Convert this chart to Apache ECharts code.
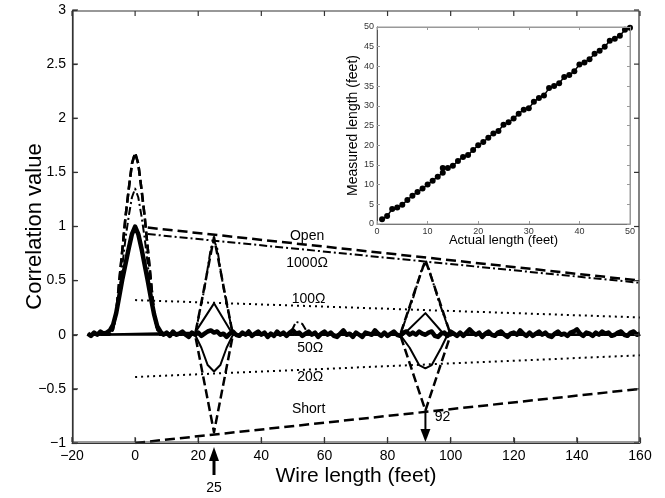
<!DOCTYPE html>
<html><head><meta charset="utf-8">
<script src="https://cdn.jsdelivr.net/npm/echarts@6/dist/echarts.min.js"></script>
<style>html,body{margin:0;padding:0;background:#fff}#c{width:665px;height:498px}</style>
</head><body><div id="c"></div>
<script>
// ---------- main chart data (x = wire length in feet, y = correlation) ----------
var xTicks = [-20, 0, 20, 40, 60, 80, 100, 120, 140, 160];
var yTicks = [-1, -0.5, 0, 0.5, 1, 1.5, 2, 2.5, 3];

// thick noisy baseline (50 ohm trace, incident peak 1.0)
var trace50 = [[-15,0.01],[-14,-0.01],[-13,0.02],[-12,0.0],[-11,0.03],[-10,0.01],[-9,0.02],[-8,0.04],[-7,0.09],[-6,0.2],[-5,0.36],[-4,0.52],[-3,0.66],[-2,0.8],[-1,0.93],[0,1.0],[1,0.93],[2,0.8],[3,0.65],[4,0.5],[5,0.34],[6,0.19],[7,0.08],[8,0.03],[9,0.0],[10,0.02],[11,-0.01],[12,0.03],[13,0.0],[14,0.01],[15,0.03],[16,0.0],[17,-0.02],[18,0.02],[19,0.0],[20,0.02],[21,-0.01],[22,0.01],[23,0.03],[24,0.04],[25,0.02],[26,0.03],[27,0.0],[28,0.01],[29,-0.02],[30,0.01],[31,0.03],[32,0.0],[33,-0.01],[34,0.02],[35,0.0],[36,0.03],[37,-0.01],[38,0.01],[39,0.03],[40,0.0],[41,0.02],[42,-0.02],[43,0.01],[44,-0.01],[45,0.03],[46,0.0],[47,0.02],[48,-0.01],[49,0.02],[50,0.04],[51,0.01],[52,0.02],[53,-0.01],[54,0.01],[55,0.03],[56,0.0],[57,0.02],[58,-0.02],[59,0.01],[60,0.03],[61,0.0],[62,0.02],[63,-0.01],[64,-0.02],[65,0.01],[66,0.04],[67,0.0],[68,0.01],[69,-0.02],[70,0.02],[71,0.0],[72,-0.02],[73,0.02],[74,0.01],[75,0.0],[76,0.04],[77,0.01],[78,-0.01],[79,0.02],[80,-0.01],[81,0.01],[82,0.03],[83,0.0],[84,-0.01],[85,0.02],[86,0.03],[87,0.0],[88,0.02],[89,0.0],[90,0.03],[91,0.01],[92,0.0],[93,0.02],[94,0.03],[95,-0.01],[96,-0.02],[97,0.01],[98,0.02],[99,-0.01],[100,0.03],[101,0.01],[102,-0.01],[103,0.02],[104,-0.01],[105,0.02],[106,0.05],[107,0.02],[108,0.0],[109,0.02],[110,-0.02],[111,0.01],[112,0.03],[113,0.0],[114,-0.01],[115,0.02],[116,0.03],[117,0.0],[118,-0.02],[119,0.01],[120,0.02],[121,0.0],[122,0.04],[123,0.01],[124,-0.01],[125,0.02],[126,-0.01],[127,0.01],[128,0.03],[129,0.0],[130,0.02],[131,-0.01],[132,-0.02],[133,0.01],[134,0.03],[135,0.0],[136,0.01],[137,-0.01],[138,0.02],[139,0.03],[140,0.05],[141,0.01],[142,-0.01],[143,0.02],[144,0.01],[145,-0.01],[146,0.02],[147,0.0],[148,0.03],[149,0.01],[150,0.02],[151,-0.01],[152,0.0],[153,0.02],[154,0.03],[155,0.0],[156,-0.01],[157,0.02],[158,0.03],[159,0.0],[160,0.01]];
var traceOpen = [[-15,0],[-8,0],[-7,0.05],[-6,0.2],[-5,0.5],[-4,0.8],[-3,1.1],[-2,1.35],[-1,1.58],[0,1.68],[1,1.58],[2,1.35],[3,1.1],[4,0.8],[5,0.5],[6,0.2],[7,0.05],[8,0],[19,0],[22,0.45],[25,0.9],[28,0.45],[31,0],[84,0],[88,0.35],[92,0.69],[96,0.35],[100,0],[160,0]];
var trace1000 = [[-15,0],[-8,0],[-7,0.05],[-6,0.18],[-5,0.4],[-4,0.65],[-3,0.9],[-2,1.1],[-1,1.27],[0,1.35],[1,1.27],[2,1.1],[3,0.9],[4,0.65],[5,0.4],[6,0.18],[7,0.05],[8,0],[19,0],[22,0.43],[24,0.8],[25,0.87],[26,0.8],[28,0.43],[31,0],[49,0],[51,0.12],[53,0.1],[55,0],[84,0],[88,0.33],[91,0.62],[92,0.66],[93,0.62],[96,0.33],[100,0],[160,0]];
var trace100 = [[-15,0],[19,0.02],[25,0.29],[31,0],[85,0],[92,0.2],[98,0],[160,0]];
var trace20 = [[-15,0],[19,0],[21,-0.12],[23,-0.28],[25,-0.34],[27,-0.28],[29,-0.12],[31,0],[84,0],[87,-0.12],[90,-0.28],[92,-0.31],[94,-0.28],[97,-0.12],[99,0],[160,0]];
var traceShort = [[-15,0],[-8,0],[-7,0.05],[-6,0.2],[-5,0.5],[-4,0.8],[-3,1.1],[-2,1.35],[-1,1.58],[0,1.68],[1,1.58],[2,1.35],[3,1.1],[4,0.8],[5,0.5],[6,0.2],[7,0.05],[8,0],[19,0],[22,-0.45],[25,-0.9],[28,-0.45],[31,0],[84,0],[88,-0.35],[92,-0.7],[96,-0.35],[100,0],[160,0]];

// attenuation envelopes
var envOpen = [[4,0.99],[160,0.5]];
var env1000 = [[4,0.93],[160,0.48]];
var env100 = [[0,0.32],[160,0.16]];
var env20 = [[0,-0.39],[160,-0.19]];
var envShort = [[0,-1.0],[160,-0.5]];

// curve labels (text, x, y in data units)
var curveLabels = [['Open',54.5,0.91],['1000\u03A9',54.5,0.66],['100\u03A9',55,0.33],['50\u03A9',55.5,-0.12],['20\u03A9',55.5,-0.39],['Short',55,-0.69]];
// arrows: position in feet
var arrowUp = 25, arrowDown = 92, arrowDownFrom = -0.7;

// ---------- inset data ----------
var insetTicksX = [0, 10, 20, 30, 40, 50];
var insetTicksY = [0, 5, 10, 15, 20, 25, 30, 35, 40, 45, 50];
var actualLen = [1,2,3,4,5,6,7,8,9,10,11,12,13,13,14,15,16,17,18,19,20,21,22,23,24,25,26,27,28,29,30,31,32,33,34,35,36,37,38,39,40,41,42,43,44,45,46,47,48,49,50];
var measuredLen = [1.2,2.0,3.8,4.2,4.9,6.1,7.2,8.1,9.0,10.0,11.0,12.0,13.0,14.2,14.2,14.8,16.0,17.0,17.5,18.8,20.0,20.8,21.9,23.0,23.6,25.2,25.8,26.8,28.0,29.0,29.4,31.0,32.0,32.6,34.5,35.0,35.7,37.3,37.8,38.8,40.5,41.0,41.8,43.2,44.0,45.0,46.5,47.0,47.8,49.3,49.8];

var FONT = 'Liberation Sans, Arial, sans-serif';
var minus = function (v) { return String(v).replace('-', '\u2212'); };

function line(data, type, width, z) {
  return { type: 'line', xAxisIndex: 0, yAxisIndex: 0, data: data, symbol: 'none', silent: true, z: z || 2,
    lineStyle: { color: '#000', width: width, type: type, cap: 'butt', join: 'round' } };
}
function axLine(c, w) { return { show: true, onZero: false, lineStyle: { color: c, width: w || 1 } }; }
function axTick(c, len, w) { return { show: true, inside: true, length: len, lineStyle: { color: c, width: w || 1 } }; }

var X0 = xTicks[0], X1 = xTicks[xTicks.length - 1], Y0 = yTicks[0], Y1 = yTicks[yTicks.length - 1];
// frame + inward ticks on all four sides, drawn through the axes' own coordinate system
var frameSeries = {
  type: 'custom', xAxisIndex: 0, yAxisIndex: 0, z: 12, silent: true, clip: false,
  data: [0],
  renderItem: function (params, api) {
    var tl = api.coord([X0, Y1]), br = api.coord([X1, Y0]);
    var st = { stroke: '#333', lineWidth: 1.2, fill: null };
    var ch = [{ type: 'rect', shape: { x: tl[0] + 1, y: tl[1] + 1, width: br[0] - tl[0] - 2, height: br[1] - tl[1] - 2 }, style: { stroke: '#333', lineWidth: 1.2, fill: 'rgba(0,0,0,0)' } }];
    xTicks.forEach(function (t) {
      var x = api.coord([t, Y0])[0];
      ch.push({ type: 'line', shape: { x1: x, y1: br[1] - 1, x2: x, y2: br[1] - 6 }, style: st });
      ch.push({ type: 'line', shape: { x1: x, y1: tl[1] + 1, x2: x, y2: tl[1] + 6 }, style: st });
    });
    yTicks.forEach(function (t) {
      var y = api.coord([X0, t])[1];
      ch.push({ type: 'line', shape: { x1: tl[0] + 1, y1: y, x2: tl[0] + 6, y2: y }, style: st });
      ch.push({ type: 'line', shape: { x1: br[0] - 1, y1: y, x2: br[0] - 6, y2: y }, style: st });
    });
    return { type: 'group', children: ch };
  }
};

var chart = echarts.init(document.getElementById('c'), null, { renderer: 'canvas' });

chart.setOption({
  animation: false,
  backgroundColor: '#fff',
  textStyle: { fontFamily: FONT },
  grid: [
    { left: 72, right: 25, top: 10, bottom: 55 },
    { left: 377, top: 27, width: 253, height: 197, show: true, backgroundColor: '#fff', borderColor: '#999', borderWidth: 1, z: 5 }
  ],
  xAxis: [
    { gridIndex: 0, type: 'value', min: X0, max: X1, interval: 20, position: 'bottom', z: 10,
      axisLine: axLine('#333', 1.2), axisTick: axTick('#333', 5, 1.2), splitLine: { show: false },
      axisLabel: { color: '#000', fontSize: 14, fontFamily: FONT, formatter: minus, margin: 6 },
      name: 'Wire length (feet)', nameLocation: 'middle', nameGap: 23, nameMoveOverlap: false, nameTextStyle: { fontSize: 21, color: '#000', fontFamily: FONT } },
    { gridIndex: 1, type: 'value', min: 0, max: 50, interval: 10, position: 'bottom', z: 10,
      axisLine: axLine('#777'), axisTick: axTick('#999', 3), splitLine: { show: false },
      axisLabel: { color: '#333', fontSize: 9, fontFamily: FONT, margin: 3 },
      name: 'Actual length (feet)', nameLocation: 'middle', nameGap: 10, nameMoveOverlap: false, nameTextStyle: { fontSize: 13, color: '#000', fontFamily: FONT } },
    { gridIndex: 1, type: 'value', min: 0, max: 50, interval: 10, position: 'top', z: 10,
      axisLine: axLine('#999'), axisTick: axTick('#999', 3), splitLine: { show: false }, axisLabel: { show: false } }
  ],
  yAxis: [
    { gridIndex: 0, type: 'value', min: Y0, max: Y1, interval: 0.5, position: 'left', z: 10,
      axisLine: axLine('#333', 1.2), axisTick: axTick('#333', 5, 1.2), splitLine: { show: false },
      axisLabel: { color: '#000', fontSize: 14, fontFamily: FONT, formatter: minus, margin: 6 },
      name: 'Correlation value', nameLocation: 'middle', nameGap: 26, nameMoveOverlap: false, nameTextStyle: { fontSize: 22, color: '#000', fontFamily: FONT } },
    { gridIndex: 1, type: 'value', min: 0, max: 50, interval: 5, position: 'left', z: 10,
      axisLine: axLine('#555'), axisTick: axTick('#999', 3), splitLine: { show: false },
      axisLabel: { color: '#333', fontSize: 9, fontFamily: FONT, margin: 3 },
      name: 'Measured length (feet)', nameLocation: 'middle', nameGap: 17, nameMoveOverlap: false, nameTextStyle: { fontSize: 14, color: '#000', fontFamily: FONT } },
    { gridIndex: 1, type: 'value', min: 0, max: 50, interval: 5, position: 'right', z: 10,
      axisLine: axLine('#999'), axisTick: axTick('#999', 3), splitLine: { show: false }, axisLabel: { show: false } }
  ],
  series: [
    line(envOpen, [10, 5], 2.5),
    line(env1000, [8, 3, 2, 3], 2),
    line(env100, [2, 4], 2),
    line(env20, [2, 4], 2),
    line(envShort, [10, 5], 2.5),
    line(traceOpen, [9, 4], 2.5),
    line(traceShort, [9, 4], 2.5),
    line(trace1000, [8, 3, 2, 3], 2),
    line(trace100, 'solid', 2),
    line(trace20, 'solid', 2),
    line(trace50, 'solid', 4.5, 3),
    frameSeries,
    { type: 'line', xAxisIndex: 1, yAxisIndex: 1, z: 7, silent: true,
      data: actualLen.map(function (a, i) { return [a, measuredLen[i]]; }),
      symbol: 'circle', symbolSize: 6, showSymbol: true,
      itemStyle: { color: '#000' }, lineStyle: { color: '#000', width: 1.5 } }
  ]
});

// annotations positioned through the chart's own coordinate system
function px(x, y) { return chart.convertToPixel({ xAxisIndex: 0, yAxisIndex: 0 }, [x, y]); }
var g = [];
curveLabels.forEach(function (l) {
  var p = px(l[1], l[2]);
  g.push({ type: 'text', x: p[0], y: p[1], z: 20,
    style: { text: l[0], fontSize: 14, fontFamily: FONT, fill: '#000', align: 'center', verticalAlign: 'middle' } });
});
var base = px(arrowUp, Y0);
g.push({ type: 'line', z: 20, shape: { x1: base[0], y1: base[1] + 32, x2: base[0], y2: base[1] + 16 }, style: { stroke: '#000', lineWidth: 3 } });
g.push({ type: 'polygon', z: 20, shape: { points: [[base[0], base[1] + 4], [base[0] - 5, base[1] + 18], [base[0] + 5, base[1] + 18]] }, style: { fill: '#000' } });
g.push({ type: 'text', x: base[0], y: base[1] + 45, z: 20, style: { text: String(arrowUp), fontSize: 14, fontFamily: FONT, fill: '#000', align: 'center', verticalAlign: 'middle' } });
var top2 = px(arrowDown, arrowDownFrom), bot2 = px(arrowDown, Y0);
g.push({ type: 'line', z: 20, shape: { x1: top2[0], y1: top2[1], x2: bot2[0], y2: bot2[1] - 12 }, style: { stroke: '#000', lineWidth: 2 } });
g.push({ type: 'polygon', z: 20, shape: { points: [[bot2[0], bot2[1] - 1], [bot2[0] - 5, bot2[1] - 14], [bot2[0] + 5, bot2[1] - 14]] }, style: { fill: '#000' } });
g.push({ type: 'text', x: top2[0] + 17, y: top2[1] + 7, z: 20, style: { text: String(arrowDown), fontSize: 14, fontFamily: FONT, fill: '#000', align: 'center', verticalAlign: 'middle' } });
chart.setOption({ graphic: g });
</script>
</body></html>
